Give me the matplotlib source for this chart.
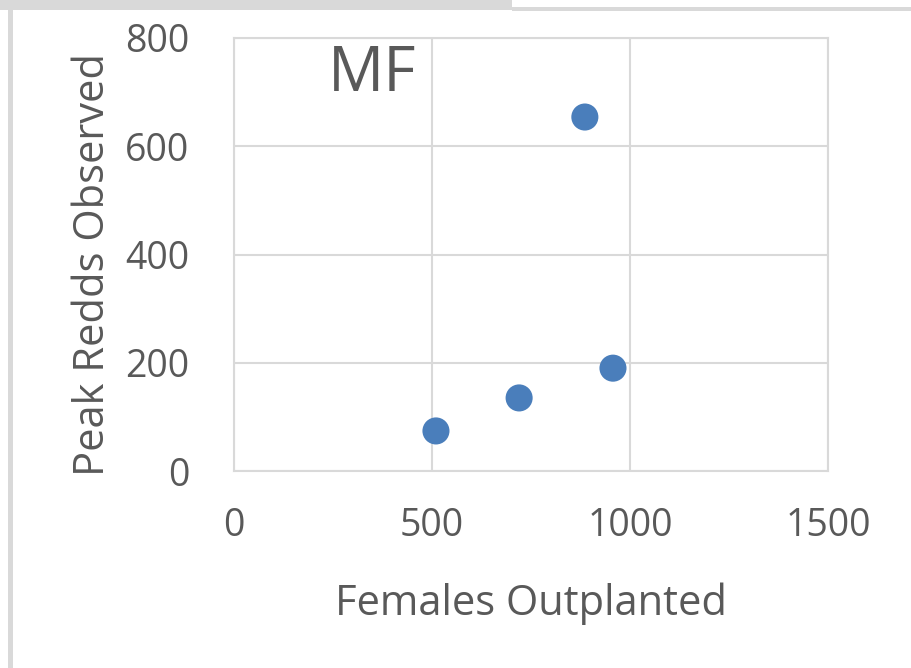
import numpy as np
import matplotlib
matplotlib.use("Agg")
import matplotlib.pyplot as plt
from matplotlib.patches import Rectangle

# data
females = [510, 720, 957, 886]
redds = [74, 135, 190, 654]
xticks = [0, 500, 1000, 1500]
yticks = [0, 200, 400, 600, 800]

W, H = 912, 668
fig = plt.figure(figsize=(W / 100, H / 100), dpi=100)
fig.patch.set_facecolor("white")

ax = fig.add_axes([234 / W, 1 - 471 / H, (828 - 234) / W, (471 - 38) / H])
ax.scatter(females, redds, s=380, color="#4a7ebb", edgecolors="none", zorder=3)

ax.set_xlim(0, 1500)
ax.set_ylim(0, 800)
ax.set_xticks(xticks)
ax.set_yticks(yticks)
ax.grid(True, color="#d9d9d9", linewidth=1.5)
ax.set_axisbelow(True)
for s in ax.spines.values():
    s.set_color("#d9d9d9")
    s.set_linewidth(1.5)
ax.tick_params(length=0, labelsize=27, labelcolor="#595959")
ax.tick_params(axis="x", pad=26)
ax.tick_params(axis="y", pad=32)
for lbl in ax.get_xticklabels() + ax.get_yticklabels():
    lbl.set_family("Open Sans")

ax.set_xlabel("Females Outplanted", fontsize=30, color="#595959",
              family="Open Sans", labelpad=27)
ax.set_ylabel("Peak Redds Observed", fontsize=30, color="#595959",
              family="Open Sans", labelpad=8)
ax.yaxis.label.set_y(0.476)
ax.text(0.232, 0.915, "MF", transform=ax.transAxes, fontsize=45,
        color="#595959", family="Open Sans", ha="center", va="center")

# outer frame pieces
gray = "#d9d9d9"
fig.add_artist(Rectangle((0, 1 - 10 / H), 512 / W, 10 / H,
                         transform=fig.transFigure, color=gray, lw=0))
fig.add_artist(Rectangle((512 / W, 1 - 11 / H), (W - 512) / W, 4 / H,
                         transform=fig.transFigure, color=gray, lw=0))
fig.add_artist(Rectangle((8 / W, 0), 5 / W, 1 - 10 / H,
                         transform=fig.transFigure, color=gray, lw=0))

fig.savefig("out.png", dpi=100)
